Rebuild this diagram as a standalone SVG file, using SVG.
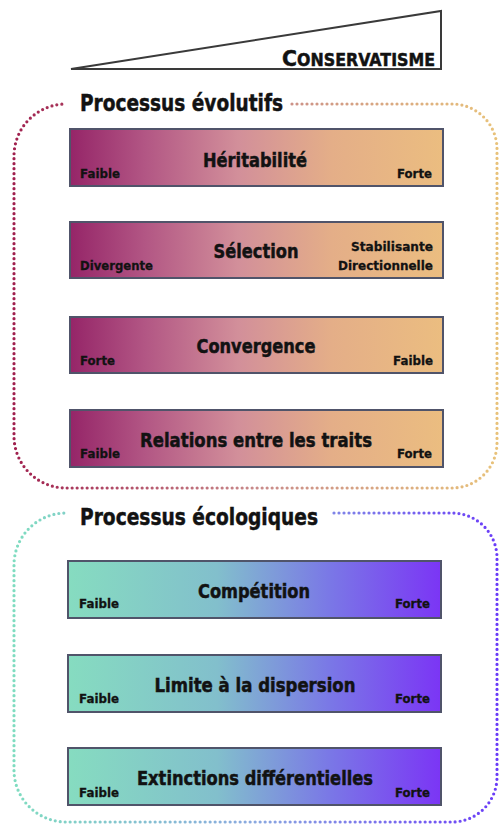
<svg xmlns="http://www.w3.org/2000/svg" width="499" height="825" viewBox="0 0 499 825">
<style>
text{font-family:"DejaVu Sans","Liberation Sans",Arial,sans-serif;font-weight:bold;fill:#121212;stroke:#121212;stroke-width:0.5}
.title{font-size:23px}
.bt{font-size:19px;text-anchor:middle}
.lab{font-size:13px;stroke-width:0.3}
.r{text-anchor:end}
.bar{stroke:#50546a;stroke-width:2}
.dots{fill:none;stroke-width:3.2;stroke-linecap:round;stroke-dasharray:0 5}
</style>
<defs>
<linearGradient id="gEvo" x1="0" y1="0" x2="1" y2="0">
<stop offset="0" stop-color="#952568"/>
<stop offset="0.2" stop-color="#b25684"/>
<stop offset="0.45" stop-color="#d28f9a"/>
<stop offset="0.7" stop-color="#e4ae88"/>
<stop offset="1" stop-color="#ebbd80"/>
</linearGradient>
<linearGradient id="gEco" x1="0" y1="0" x2="1" y2="0">
<stop offset="0" stop-color="#86dcc0"/>
<stop offset="0.4" stop-color="#82bfcc"/>
<stop offset="0.7" stop-color="#7a78e6"/>
<stop offset="1" stop-color="#7b35f5"/>
</linearGradient>
<linearGradient id="sEvo" gradientUnits="userSpaceOnUse" x1="14" y1="0" x2="497" y2="0">
<stop offset="0" stop-color="#a0204e"/>
<stop offset="0.5" stop-color="#c88a8a"/>
<stop offset="1" stop-color="#e8c27a"/>
</linearGradient>
<linearGradient id="sEco" gradientUnits="userSpaceOnUse" x1="14" y1="0" x2="497" y2="0">
<stop offset="0" stop-color="#7fdcc0"/>
<stop offset="0.5" stop-color="#8aa8e0"/>
<stop offset="1" stop-color="#6a3cf8"/>
</linearGradient>
</defs>

<g id="conservatisme">
<polygon points="71,69 441,11 441,69" fill="none" stroke="#3a3a3a" stroke-width="2"/>
<text x="282" y="66" textLength="153" lengthAdjust="spacingAndGlyphs"><tspan font-size="22">C</tspan><tspan font-size="17">ONSERVATISME</tspan></text>
</g>

<g id="evolutifs">
<path class="dots" stroke="url(#sEvo)" d="M292,104 H452 A45,45 0 0 1 497,149 V443 A45,45 0 0 1 452,488 H66 A52,52 0 0 1 14,436 V156 A52,52 0 0 1 66,104"/>
<text class="title" x="80" y="111" textLength="203" lengthAdjust="spacingAndGlyphs">Processus évolutifs</text>
</g>

<g id="heritabilite">
<rect class="bar" x="70" y="129" width="373" height="57" fill="url(#gEvo)"/>
<text class="bt" x="255" y="167" textLength="104" lengthAdjust="spacingAndGlyphs">Héritabilité</text>
<text class="lab" x="80" y="178" textLength="40" lengthAdjust="spacingAndGlyphs">Faible</text>
<text class="lab r" x="432" y="178" textLength="35" lengthAdjust="spacingAndGlyphs">Forte</text>
</g>

<g id="selection">
<rect class="bar" x="70" y="222" width="373" height="56" fill="url(#gEvo)"/>
<text class="bt" x="256" y="258" textLength="85" lengthAdjust="spacingAndGlyphs">Sélection</text>
<text class="lab" x="80" y="270" textLength="73" lengthAdjust="spacingAndGlyphs">Divergente</text>
<text class="lab r" x="433" y="251" textLength="82" lengthAdjust="spacingAndGlyphs">Stabilisante</text>
<text class="lab r" x="433" y="270" textLength="95" lengthAdjust="spacingAndGlyphs">Directionnelle</text>
</g>

<g id="convergence">
<rect class="bar" x="70" y="317" width="373" height="56" fill="url(#gEvo)"/>
<text class="bt" x="256" y="353" textLength="119" lengthAdjust="spacingAndGlyphs">Convergence</text>
<text class="lab" x="80" y="365" textLength="35" lengthAdjust="spacingAndGlyphs">Forte</text>
<text class="lab r" x="433" y="365" textLength="40" lengthAdjust="spacingAndGlyphs">Faible</text>
</g>

<g id="relations">
<rect class="bar" x="70" y="410" width="373" height="57" fill="url(#gEvo)"/>
<text class="bt" x="256" y="447" textLength="232" lengthAdjust="spacingAndGlyphs">Relations entre les traits</text>
<text class="lab" x="80" y="458" textLength="40" lengthAdjust="spacingAndGlyphs">Faible</text>
<text class="lab r" x="432" y="458" textLength="35" lengthAdjust="spacingAndGlyphs">Forte</text>
</g>

<g id="ecologiques">
<path class="dots" stroke="url(#sEco)" d="M334,513 H452 A45,45 0 0 1 497,558 V777 A45,45 0 0 1 452,822 H66 A52,52 0 0 1 14,770 V565 A52,52 0 0 1 66,513"/>
<text class="title" x="80" y="525" textLength="238" lengthAdjust="spacingAndGlyphs">Processus écologiques</text>
</g>

<g id="competition">
<rect class="bar" x="68" y="561" width="373" height="57" fill="url(#gEco)"/>
<text class="bt" x="254" y="598" textLength="112" lengthAdjust="spacingAndGlyphs">Compétition</text>
<text class="lab" x="79" y="608" textLength="40" lengthAdjust="spacingAndGlyphs">Faible</text>
<text class="lab r" x="430" y="608" textLength="35" lengthAdjust="spacingAndGlyphs">Forte</text>
</g>

<g id="dispersion">
<rect class="bar" x="68" y="655" width="373" height="57" fill="url(#gEco)"/>
<text class="bt" x="255" y="692" textLength="201" lengthAdjust="spacingAndGlyphs">Limite à la dispersion</text>
<text class="lab" x="79" y="703" textLength="40" lengthAdjust="spacingAndGlyphs">Faible</text>
<text class="lab r" x="430" y="703" textLength="35" lengthAdjust="spacingAndGlyphs">Forte</text>
</g>

<g id="extinctions">
<rect class="bar" x="68" y="748" width="373" height="57" fill="url(#gEco)"/>
<text class="bt" x="255" y="785" textLength="236" lengthAdjust="spacingAndGlyphs">Extinctions différentielles</text>
<text class="lab" x="79" y="797" textLength="40" lengthAdjust="spacingAndGlyphs">Faible</text>
<text class="lab r" x="430" y="797" textLength="35" lengthAdjust="spacingAndGlyphs">Forte</text>
</g>
</svg>
